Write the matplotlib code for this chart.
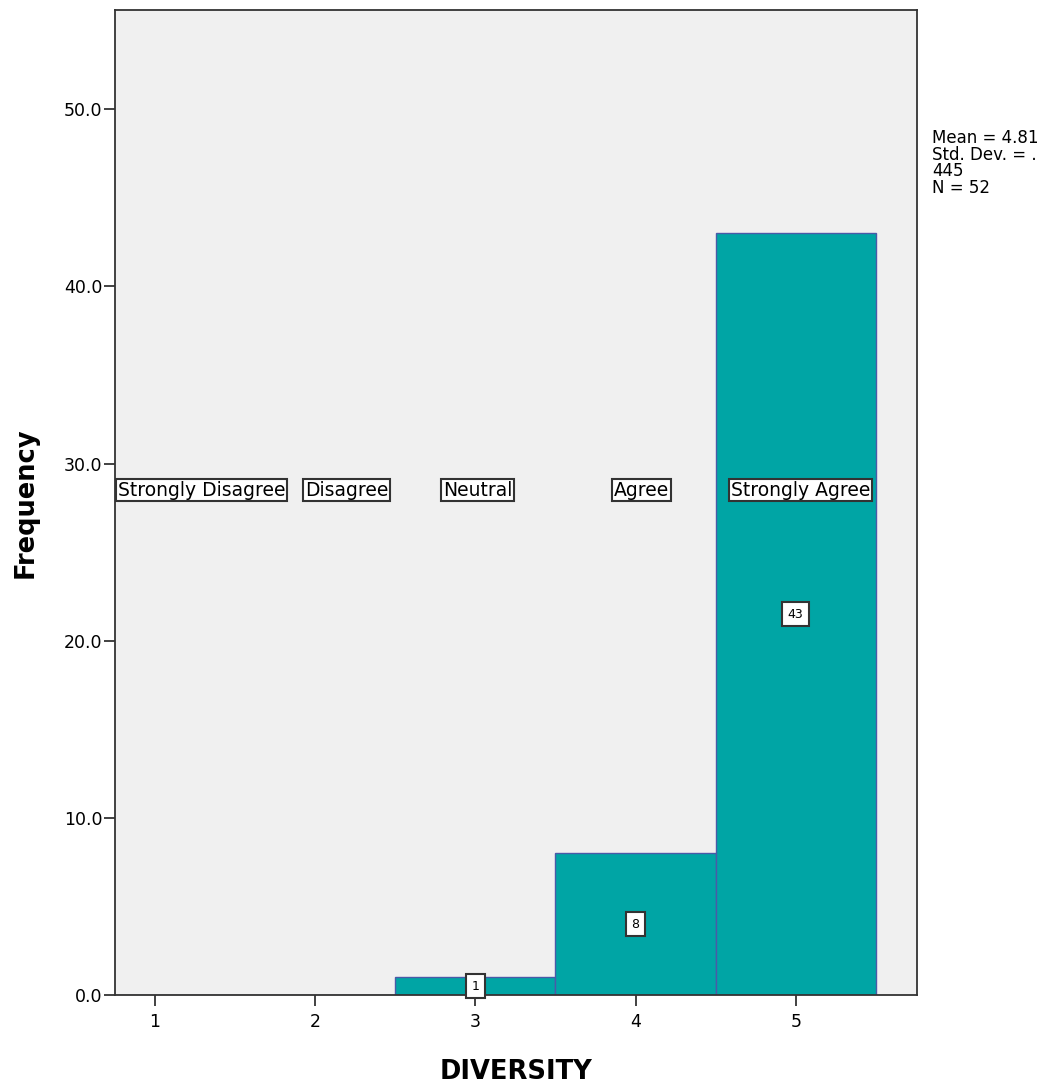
import matplotlib
matplotlib.use("Agg")
from matplotlib import pyplot as plt

# Histogram data (DIVERSITY, Likert scale)
scores = [1, 2, 3, 4, 5]
counts = [0, 0, 1, 8, 43]
category_labels = ["Strongly Disagree", "Disagree", "Neutral", "Agree", "Strongly Agree"]
y_ticks = [0, 10, 20, 30, 40, 50]
stats_text = "Mean = 4.81\nStd. Dev. = .\n445\nN = 52"

# layout: where the value labels sit (SPSS nudges them sideways a bit)
label_x = [1.29, 2.197, 3.016, 4.04, 5.03]
label_y = 28.5

plt.rcParams["font.family"] = ["DejaVu Sans"]

fig = plt.figure(figsize=(10.55, 10.89), dpi=100)
ax = fig.add_axes([0.109, 0.0863, 0.760, 0.9045])
ax.set_facecolor("#f0f0f0")

ax.bar(scores, counts, width=1.0, color="#00a5a5", edgecolor="#4a5aa8", linewidth=1.0, zorder=2)

ax.set_xlim(0.75, 5.756)
ax.set_ylim(0, 55.6)

ax.set_xticks(scores)
ax.set_xticklabels([str(s) for s in scores], fontsize=12.5)
ax.set_yticks(y_ticks)
ax.set_yticklabels([f"{v:.1f}" for v in y_ticks], fontsize=12.5)
ax.tick_params(axis="both", direction="out", length=8, width=1.3, color="#333333")
ax.tick_params(axis="x", pad=5)
ax.tick_params(axis="y", pad=1)

for side in ax.spines.values():
    side.set_color("#333333")
    side.set_linewidth(1.3)

ax.set_xlabel("DIVERSITY", fontsize=18.5, fontweight="bold", labelpad=20)
ax.set_ylabel("Frequency", fontsize=18.5, fontweight="bold", labelpad=18)

box = dict(boxstyle="square,pad=0.1", facecolor="white", edgecolor="#333333", linewidth=1.5)

# category labels
for x, lab in zip(label_x, category_labels):
    ax.text(x, label_y, lab, ha="center", va="center", fontsize=13.5, bbox=box, zorder=4)

# count labels in bars
for s, c in zip(scores, counts):
    if c > 0:
        ax.text(s, c / 2, str(c), ha="center", va="center", fontsize=9,
                bbox=dict(boxstyle="square,pad=0.45", facecolor="white", edgecolor="#333333", linewidth=1.5),
                zorder=4)

fig.text(932 / 1055, 1 - 129 / 1089, stats_text, ha="left", va="top", fontsize=12, linespacing=0.9)

fig.savefig("out.png", dpi=100)
